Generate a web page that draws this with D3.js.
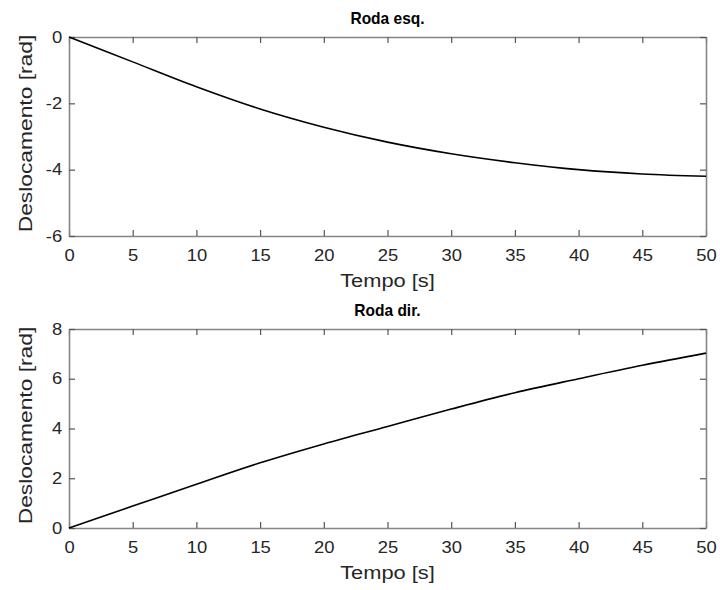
<!DOCTYPE html>
<html><head><meta charset="utf-8">
<script src="https://cdn.jsdelivr.net/npm/d3@7"></script>
<style>body{margin:0;background:#fff;} text{font-family:"Liberation Sans",Arial,sans-serif;}</style>
</head><body><svg id="c" width="720" height="590"></svg>
<script>
const time = [0,5,10,15,20,25,30,35,40,45,50];
const rodaEsq = [0,-0.75,-1.5,-2.17,-2.72,-3.17,-3.52,-3.79,-4.0,-4.13,-4.2];
const rodaDir = [0,0.88,1.76,2.62,3.38,4.08,4.78,5.44,6.0,6.54,7.03];
const xTicks = [0,5,10,15,20,25,30,35,40,45,50];
const yTicksEsq = [-6,-4,-2,0];
const yTicksDir = [0,2,4,6,8];
const titles = ["Roda esq.","Roda dir."];
const xLabel = "Tempo [s]";
const yLabel = "Deslocamento [rad]";

const svg = d3.select("#c");
const panels = [
  {top:37, bottom:236, dom:[-6,0], ticks:yTicksEsq, vals:rodaEsq, title:titles[0]},
  {top:329, bottom:528, dom:[0,8], ticks:yTicksDir, vals:rodaDir, title:titles[1]}
];
const L = 69, R = 706;
const axisCol = "#858585", textCol = "#262626";
const sx = 1.15;

panels.forEach(p => {
  const x = d3.scaleLinear().domain([0,50]).range([L,R]);
  const y = d3.scaleLinear().domain(p.dom).range([p.bottom,p.top]);
  const g = svg.append("g");
  const tl = 6;
  const fmt = d => String(d);
  const xb = g.append("g").attr("transform",`translate(0,${p.bottom})`)
    .call(d3.axisBottom(x).tickValues(xTicks).tickSizeInner(-tl).tickSizeOuter(0).tickFormat(fmt));
  const xt = g.append("g").attr("transform",`translate(0,${p.top})`)
    .call(d3.axisTop(x).tickValues(xTicks).tickSizeInner(-tl).tickSizeOuter(0).tickFormat(""));
  const yl = g.append("g").attr("transform",`translate(${L},0)`)
    .call(d3.axisLeft(y).tickValues(p.ticks).tickSizeInner(-tl).tickSizeOuter(0).tickPadding(6).tickFormat(fmt));
  const yr = g.append("g").attr("transform",`translate(${R},0)`)
    .call(d3.axisRight(y).tickValues(p.ticks).tickSizeInner(-tl).tickSizeOuter(0).tickFormat(""));
  [xb,xt,yl,yr].forEach(a => {
    a.select(".domain").attr("stroke",axisCol).attr("stroke-width",1.6);
    a.selectAll(".tick line").attr("stroke","#555").attr("stroke-width",1.2);
    a.selectAll(".tick text").attr("fill",textCol).style("font-size","16px")
      .style("font-family","Liberation Sans, Arial, sans-serif").attr("transform",`scale(${sx},1)`);
  });
  xb.selectAll(".tick text").attr("dy","0.71em").attr("y",14);
  const line = d3.line().x((d,i)=>x(time[i])).y(d=>y(d)).curve(d3.curveCatmullRom.alpha(0.5));
  g.append("path").datum(p.vals).attr("d",line).attr("fill","none").attr("stroke","#000").attr("stroke-width",1.6);
  g.append("text").attr("transform",`translate(${(L+R)/2},${p.top-13}) scale(0.97,1.08)`).attr("text-anchor","middle")
    .attr("fill","#000").style("font-size","16px").style("font-weight","bold").text(p.title);
  g.append("text").attr("transform",`translate(${(L+R)/2},${p.bottom+51}) scale(${sx},1)`).attr("text-anchor","middle")
    .attr("fill",textCol).style("font-size","19px").text(xLabel);
  g.append("text").attr("transform",`translate(32,${(p.top+p.bottom)/2 - 3}) rotate(-90) scale(1.2,1)`).attr("text-anchor","middle")
    .attr("fill",textCol).style("font-size","19px").text(yLabel);
});
</script></body></html>
